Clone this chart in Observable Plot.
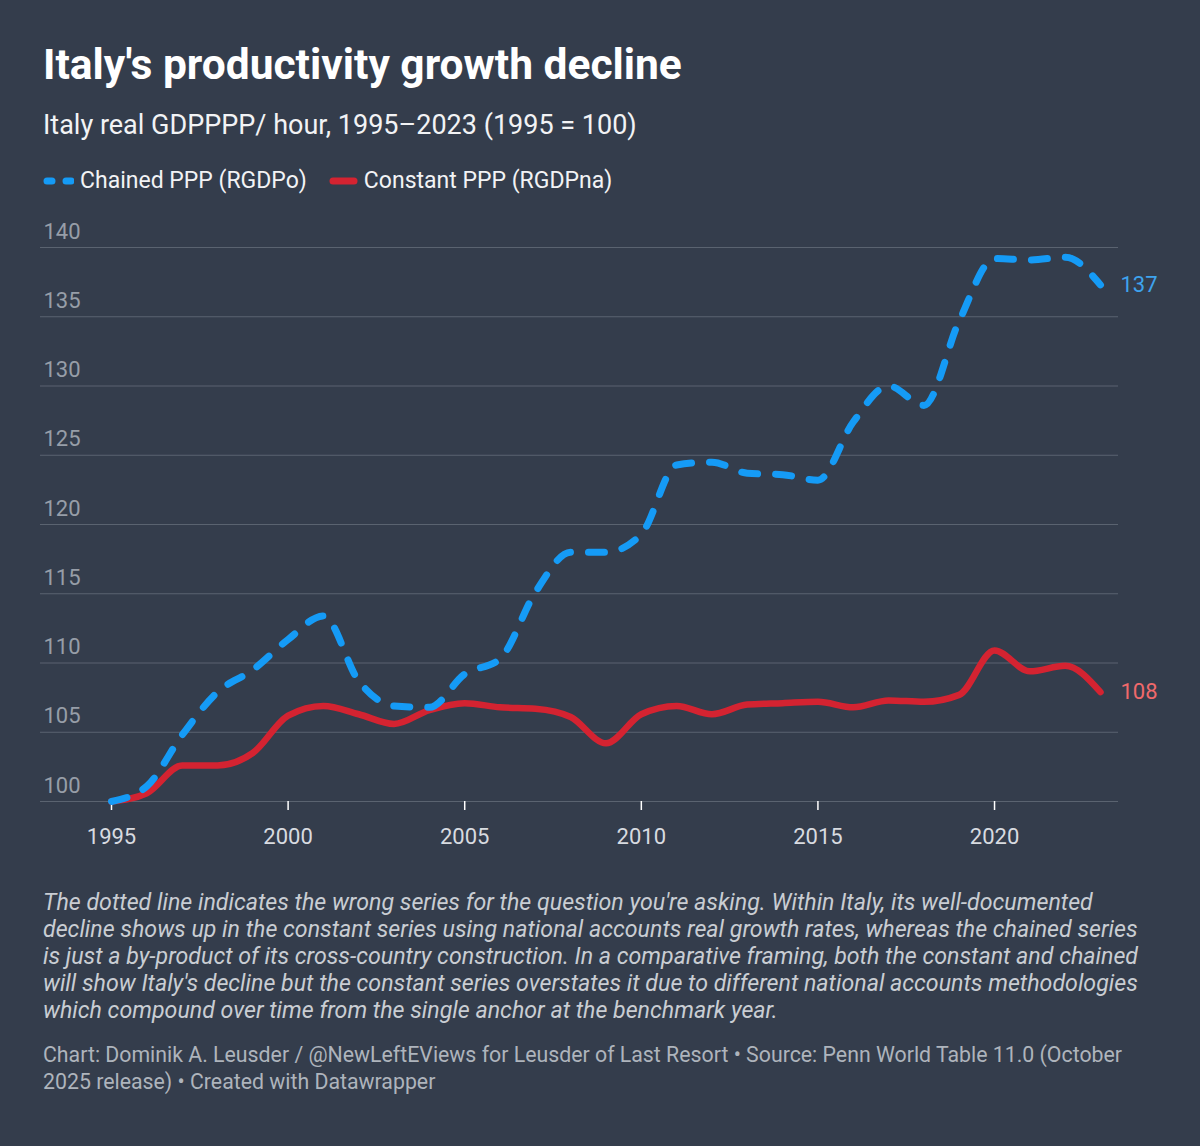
<!DOCTYPE html>
<html>
<head>
<meta charset="utf-8">
<script src="https://cdn.jsdelivr.net/npm/d3@7"></script>
<script src="https://cdn.jsdelivr.net/npm/@observablehq/plot@0.6"></script>
<style>
  html, body { margin: 0; padding: 0; }
  body { width: 1200px; height: 1146px; background: #343d4c; font-family: Roboto, "Noto Sans", sans-serif; position: relative; overflow: hidden; }
  .abs { position: absolute; left: 43px; white-space: nowrap; }
  #title { top: 44px; font-size: 42.5px; line-height: 1; font-weight: 700; color: #ffffff; }
  #subtitle { top: 112px; font-size: 27px; line-height: 1; color: #f2f3f5; }
  #legend { top: 169px; left: 43px; font-size: 23px; line-height: 1; color: #f2f3f5; display: flex; align-items: center; }
  #legend .item { display: flex; align-items: center; margin-right: 22px; }
  #legend svg { margin-right: 6px; }
  #caption { top: 889px; font-size: 23.2px; line-height: 27px; font-style: italic; color: #c9cdd3; }
  #source { top: 1041px; font-size: 21.3px; line-height: 27px; color: #aeb4bc; }
  #chart { position: absolute; top: 210px; left: 0; }
</style>
</head>
<body>
<div id="title" class="abs">Italy's productivity growth decline</div>
<div id="subtitle" class="abs">Italy real GDPPPP/ hour, 1995–2023 (1995 = 100)</div>
<div id="legend" class="abs"></div>
<div id="chart"></div>
<div id="caption" class="abs">The dotted line indicates the wrong series for the question you're asking. Within Italy, its well-documented<br>decline shows up in the constant series using national accounts real growth rates, whereas the chained series<br>is just a by-product of its cross-country construction. In a comparative framing, both the constant and chained<br>will show Italy's decline but the constant series overstates it due to different national accounts methodologies<br>which compound over time from the single anchor at the benchmark year.</div>
<div id="source" class="abs">Chart: Dominik A. Leusder / @NewLeftEViews for Leusder of Last Resort • Source: Penn World Table 11.0 (October<br>2025 release) • Created with Datawrapper</div>
<script>
// ---- data ----
const years = [1995,1996,1997,1998,1999,2000,2001,2002,2003,2004,2005,2006,2007,2008,2009,2010,2011,2012,2013,2014,2015,2016,2017,2018,2019,2020,2021,2022,2023];
const chained = [100,101.1,104.8,107.9,109.5,111.7,113.4,108.7,106.9,106.8,109.2,110.3,115.1,118.0,118.0,119.3,124.3,124.5,123.7,123.6,123.2,127.4,130.0,128.6,134.7,139.2,139.1,139.3,137.3];
const constant = [100,100.6,102.6,102.6,103.5,106.2,106.9,106.3,105.6,106.6,107.1,106.8,106.7,106.1,104.2,106.3,106.9,106.3,107.0,107.1,107.2,106.8,107.3,107.2,107.7,110.9,109.4,109.8,107.9];
const seriesNames = ["Chained PPP (RGDPo)", "Constant PPP (RGDPna)"];
const seriesColors = ["#159bf6", "#d42331"];
const labelColors = ["#3ea3ee", "#f0696b"];
const endLabels = ["137", "108"];
const yTicks = [100,105,110,115,120,125,130,135,140];
const xTicks = [1995,2000,2005,2010,2015,2020];

// ---- legend ----
const legend = document.getElementById("legend");
legend.innerHTML = `
  <div class="item"><svg width="31" height="10"><line x1="4" y1="5" x2="30" y2="5" stroke="${seriesColors[0]}" stroke-width="7" stroke-linecap="round" stroke-dasharray="5,14"/></svg><span>${seriesNames[0]}</span></div>
  <div class="item"><svg width="29" height="10"><line x1="4" y1="5" x2="25" y2="5" stroke="${seriesColors[1]}" stroke-width="7" stroke-linecap="round"/></svg><span>${seriesNames[1]}</span></div>`;

// ---- tables ----
const chainedRows = years.map((y, i) => ({year: y, value: chained[i]}));
const constantRows = years.map((y, i) => ({year: y, value: constant[i]}));
const last = years.length - 1;
const labelRows = [
  {year: years[last], value: chained[last], text: endLabels[0], color: labelColors[0]},
  {year: years[last], value: constant[last], text: endLabels[1], color: labelColors[1]}
];

const plot = Plot.plot({
  width: 1200,
  height: 636,
  marginLeft: 40,
  marginRight: 82,
  marginTop: 37,
  marginBottom: 45,
  style: {background: "transparent", fontFamily: "Roboto, sans-serif", overflow: "visible"},
  x: {domain: [years[0], years[last]], insetLeft: 71, insetRight: 18, label: null},
  y: {domain: [yTicks[0], yTicks[yTicks.length - 1]], label: null},
  marks: [
    Plot.gridY(yTicks, {stroke: "#5a6370", strokeOpacity: 1, strokeWidth: 1}),
    Plot.axisY(yTicks, {tickSize: 0, tickPadding: 0, textAnchor: "start", lineAnchor: "bottom", dx: 3, dy: -9, fill: "#979ea8", fontSize: 22, label: null, tickFormat: d => String(d)}),
    Plot.axisX(xTicks, {tickSize: 9, tickFormat: () => "", stroke: "#ffffff", strokeWidth: 1.5, label: null}),
    Plot.axisX(xTicks, {tickSize: 0, tickPadding: 27, fill: "#d8dbe0", fontSize: 22, label: null, tickFormat: d => String(d)}),
    Plot.line(constantRows, {x: "year", y: "value", stroke: seriesColors[1], strokeWidth: 6.5, curve: "monotone-x", strokeLinejoin: "round", strokeLinecap: "round"}),
    Plot.line(chainedRows, {x: "year", y: "value", stroke: seriesColors[0], strokeWidth: 7, curve: "monotone-x", strokeDasharray: "16,18", strokeLinecap: "round"}),
    Plot.text(labelRows, {x: "year", y: "value", text: "text", fill: "color", dx: 20, textAnchor: "start", lineAnchor: "middle", fontSize: 22})
  ]
});
document.getElementById("chart").appendChild(plot);
</script>
</body>
</html>
